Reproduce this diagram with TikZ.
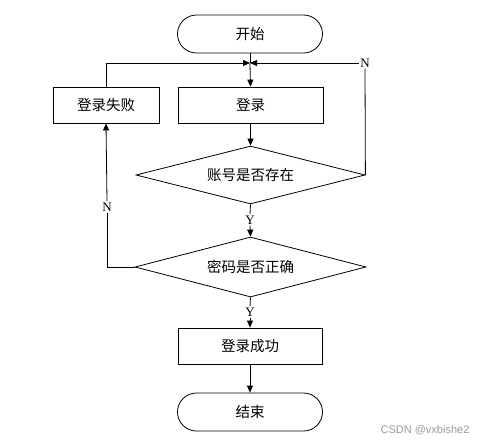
\documentclass[tikz,border=0pt]{standalone}
\usepackage{fontspec}
\setmainfont{Liberation Serif}
\newfontfamily\cjk{Noto Sans CJK SC}
\newfontfamily\wmfont{Liberation Sans}
\usetikzlibrary{shapes.geometric,arrows.meta}
\begin{document}
\begin{tikzpicture}[x=1pt,y=-1pt,
  line width=0.8pt,
  arr/.style={-{Triangle[length=7pt,width=6pt]}},
  term/.style={draw,rectangle,rounded corners=19pt,minimum width=145pt,minimum height=38pt,inner sep=0pt,font=\cjk\fontsize{14.5}{16}\selectfont},
  proc/.style={draw,rectangle,minimum height=36pt,inner sep=0pt,font=\cjk\fontsize{14.5}{16}\selectfont},
  dec/.style={draw,diamond,shape aspect=4,inner sep=0pt,font=\cjk\fontsize{14.5}{16}\selectfont},
  lab/.style={fill=white,inner sep=1pt,font=\fontsize{13}{15}\selectfont}]
\useasboundingbox (0,0) rectangle (493,445);
\node[term] (start) at (250,34) {开始};
\node[proc,minimum width=145pt] (login) at (250.5,105) {登录};
\node[proc,minimum width=106pt] (fail) at (106,105) {登录失败};
\node[dec,minimum width=229pt,minimum height=58pt] (d1) at (250.5,175) {账号是否存在};
\node[dec,minimum width=231pt,minimum height=60pt] (d2) at (250.5,267) {密码是否正确};
\node[proc,minimum width=144pt] (succ) at (250,346) {登录成功};
\node[term] (end) at (250,412) {结束};
\coordinate (j) at (250,63);
\node[lab] (nr) at (365,63) {N};
\node[lab] (y1) at (250,220) {Y};
\node[lab] (y2) at (250,312) {Y};
\node[lab] (nl) at (107,207) {N};
% main flow
\draw (start.south) -- (j);
\draw[arr] (j) -- (login.north);
\draw[arr] (login.south) -- (d1.north);
\draw (d1.south) -- (y1.north);
\draw[arr] (y1.south) -- (d2.north);
\draw (d2.south) -- (y2.north);
\draw[arr] (y2.south) -- (succ.north);
\draw[arr] (succ.south) -- (end.north);
% loops
\draw[arr] (fail.north) |- (j);
\draw (d1.east) -- (nr.south);
\draw[arr] (nr.west) -- (j);
\draw (d2.west) -| (nl.south);
\draw[arr] (nl.north) -- (fail.south);
% watermark
\node[font=\wmfont\fontsize{11}{13}\selectfont,text=black!40] (wm) at (425,430) {CSDN @vxbishe2};
\end{tikzpicture}
\end{document}
